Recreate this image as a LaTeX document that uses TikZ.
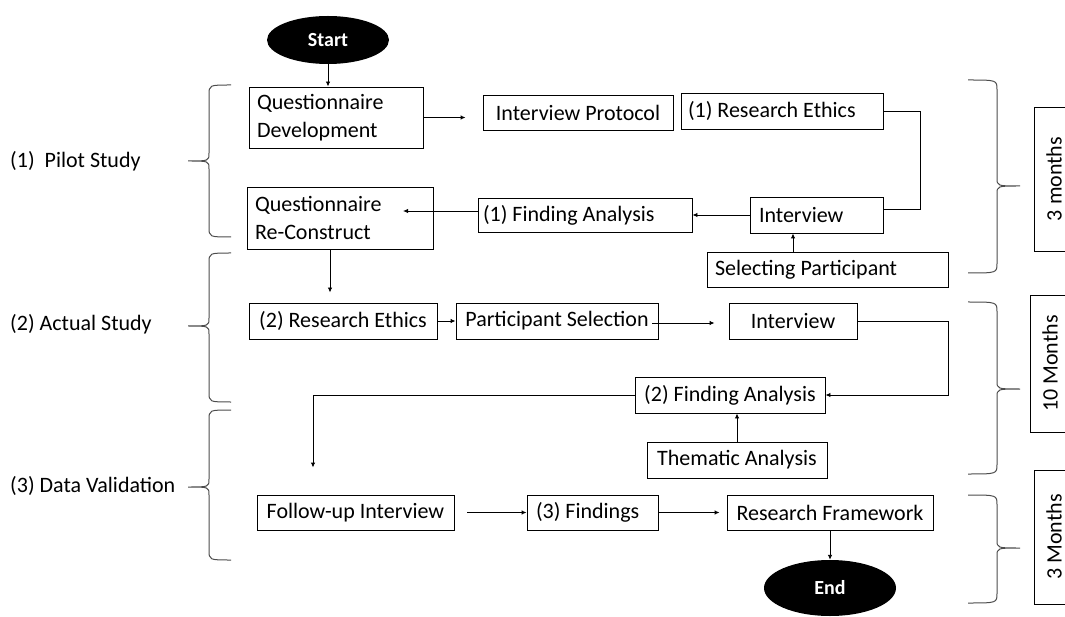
\documentclass[tikz,border=0pt]{standalone}
\usepackage{fontspec}
\setmainfont{Carlito}
\usetikzlibrary{arrows.meta,shapes.geometric}

% curly brace built from a top end, a vertical stem, a pointed tip and a bottom end
% #1 end x, #2 stem x, #3 tip x, #4 top y, #5 tip y, #6 bottom y
\newcommand{\sidebrace}[6]{%
  \draw[bracestyle] (#1,#4) .. controls (#2,#4) .. (#2,#4+10)
    -- (#2,#5-8) .. controls (#2,#5) .. (#3,#5)
    .. controls (#2,#5) .. (#2,#5+8)
    -- (#2,#6-10) .. controls (#2,#6) .. (#1,#6);}

\begin{document}
\begin{tikzpicture}[x=1pt,y=-1pt,
  every node/.style={font=\fontsize{22}{27.5}\selectfont},
  box/.style={draw, line width=0.9pt, inner sep=0pt, align=center},
  lbox/.style={box, align=flush left},
  term/.style={ellipse, fill=black, text=white, inner sep=0pt,
    font=\fontsize{20}{24}\selectfont\bfseries},
  conn/.style={line width=0.9pt},
  arr/.style={conn, -{Latex[length=5pt,width=4.5pt]}},
  bracestyle/.style={line width=1pt, draw=black!70},
  phase/.style={anchor=west, inner sep=0pt}]

\useasboundingbox (0,0) rectangle (1065,617);
\clip (0,0) rectangle (1065,617);

% terminals
\node[term, minimum width=122pt, minimum height=48pt] (start) at (328,40) {Start};
\node[term, minimum width=132pt, minimum height=56pt] (end) at (830,588) {End};

% (1) pilot study
\node[lbox, inner xsep=8pt, text width=158pt, minimum height=61pt] (qdev) at (336,117.5) {Questionnaire\\Development};
\node[box, minimum width=190pt, minimum height=35pt] (iprot) at (578,112.5) {Interview Protocol};
\node[lbox, inner xsep=7pt, text width=188pt, minimum height=36pt] (re1) at (782,111) {(1) Research Ethics};
\node[lbox, inner xsep=8pt, text width=170pt, minimum height=62pt] (qrec) at (340,218) {Questionnaire\\Re-Construct};
\node[lbox, inner xsep=5pt, text width=204pt, minimum height=34pt] (fa1) at (585,215) {(1) Finding Analysis};
\node[lbox, inner xsep=9pt, text width=115pt, minimum height=36pt] (int1) at (816.5,215) {Interview};
\node[lbox, inner xsep=8pt, text width=225pt, minimum height=35pt] (selp) at (827.5,269.5) {Selecting Participant};

% (2) actual study
\node[box, minimum width=188pt, minimum height=36pt] (re2) at (343,321) {(2) Research Ethics};
\node[box, minimum width=202pt, minimum height=36pt] (psel) at (557,321) {Participant Selection};
\node[box, minimum width=128pt, minimum height=36pt] (int2) at (793,321) {Interview};
\node[box, minimum width=190pt, minimum height=36pt] (fa2) at (730,395) {(2) Finding Analysis};
\node[box, minimum width=180pt, minimum height=36pt] (them) at (737,460) {Thematic Analysis};

% (3) data validation
\node[box, minimum width=197pt, minimum height=35pt] (fup) at (355.5,512.5) {Follow-up Interview};
\node[lbox, inner xsep=9pt, text width=113pt, minimum height=35pt] (find3) at (592.5,512.5) {(3) Findings};
\node[box, minimum width=206pt, minimum height=35pt] (rfw) at (830,512.5) {Research Framework};

% connectors
\coordinate (qin) at (403,211);
\draw[arr] (start.south) -- (start.south |- qdev.north);
\draw[arr, shorten >=17pt] (qdev.east) -- (qdev.east -| iprot.west);
\draw[conn] (re1.east) -- ++(37,0) |- ([yshift=6pt]int1.east);
\draw[arr] (int1.west) -- (fa1.east);
\draw[arr] ([yshift=4pt]fa1.west) -- (qin);
\draw[arr] ([xshift=-34.5pt]selp.north) -- ([xshift=-34.5pt]selp.north |- int1.south);
\draw[arr, shorten >=10pt] ([xshift=-10pt]qrec.south) -- ([xshift=-10pt]qrec.south |- re2.north);
\draw[arr] (re2.east) -- (psel.west);
\draw[arr, shorten >=14pt] ([shift={(-6pt,-2pt)}]psel.east) -- ([yshift=-2pt]int2.west);
\draw[arr] (int2.east) -- ++(91,0) |- (fa2.east);
\draw[arr] (them.north) -- (them.north |- fa2.south);
\draw[arr, shorten >=27pt] (fa2.west) -| ([xshift=-42.5pt]fup.north);
\draw[arr, shorten <=13pt] (fup.east) -- (find3.west);
\draw[arr, shorten >=7pt] (find3.east) -- (rfw.west);
\draw[arr] (rfw.south) -- (end.north);

% phase braces and labels
\sidebrace{231}{209}{188}{85}{161}{237}
\sidebrace{231}{209}{188}{253}{326}{402}
\sidebrace{231}{209}{188}{410}{487}{560}
\node[phase] (pilot) at (10,161) {(1)\ \ Pilot Study};
\node[phase] (actual) at (10,324) {(2) Actual Study};
\node[phase] (valid) at (10,486) {(3) Data Validation};

% duration braces and boxes
\sidebrace{968}{997}{1020}{80}{186}{273}
\sidebrace{968}{997}{1020}{302}{389}{474}
\sidebrace{968}{997}{1020}{495}{548}{603}
\node[box, rotate=90, minimum width=144pt, minimum height=40pt] (m1) at (1054,179) {3 months};
\node[box, rotate=90, minimum width=137pt, minimum height=40pt] (m2) at (1050,363.5) {10 Months};
\node[box, rotate=90, minimum width=134pt, minimum height=40pt] (m3) at (1054,537) {3 Months};
\end{tikzpicture}
\end{document}
